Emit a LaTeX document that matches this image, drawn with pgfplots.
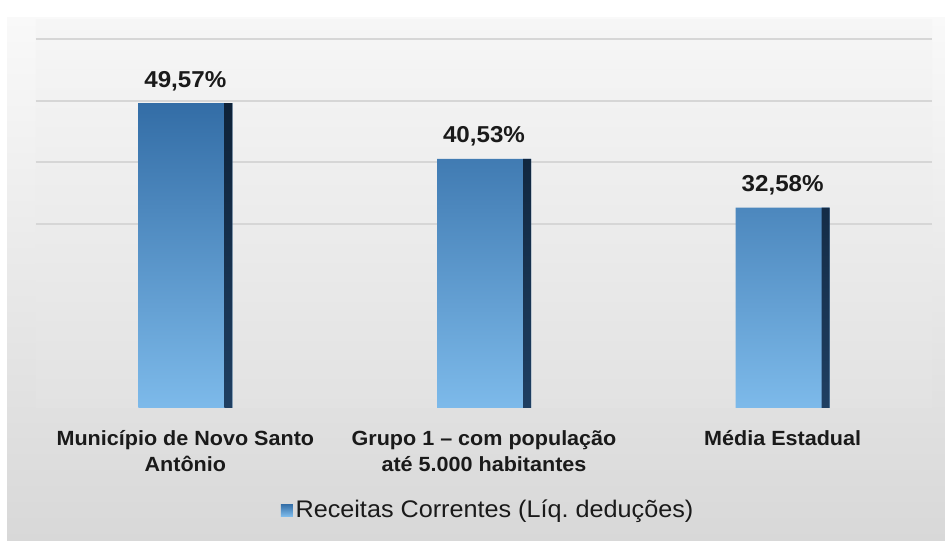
\documentclass[border=0pt]{standalone}
\usepackage{fontspec}
\setmainfont{Liberation Sans}[FakeStretch=1.05]
\usepackage{pgfplots}
\pgfplotsset{compat=1.18}
\frenchspacing
\definecolor{barTop}{HTML}{336DA6}
\definecolor{barBot}{HTML}{7DBAEA}
\definecolor{edgeTop}{HTML}{0E2238}
\definecolor{edgeBot}{HTML}{1F3F62}
\definecolor{bgTop}{HTML}{F9F9F9}
\definecolor{bgBot}{HTML}{D8D8D8}
\definecolor{panTop}{HTML}{F6F6F6}
\definecolor{panBot}{HTML}{E2E2E2}
\definecolor{gridc}{HTML}{D6D6D6}
\definecolor{txt}{HTML}{1A1A1A}
\begin{document}
\begin{tikzpicture}
\begin{scope}[x=0.75pt,y=0.75pt]
\path[use as bounding box] (0,0) rectangle (945,541);
\fill[white] (0,0) rectangle (945,541);
\shade[top color=bgTop, bottom color=bgBot] (7,0) rectangle (945,523);
\end{scope}
\begin{axis}[
  at={(27pt,99.75pt)}, anchor=south west,
  scale only axis, width=672pt, height=291pt,
  xmin=-0.5, xmax=2.5, ymin=0, ymax=63.1,
  axis background/.style={top color=panTop, bottom color=panBot},
  axis line style={draw=none},
  tick style={draw=none},
  ymajorgrids, ytick={30,40,50,60}, yticklabels={},
  grid style={gridc, line width=1.5pt},
  xtick={0,1,2},
  xticklabels={{Município de Novo Santo\\Antônio},{Grupo 1 – com população\\até 5.000 habitantes},{Média Estadual}},
  xticklabel style={align=center, text=txt, font=\bfseries\fontsize{15.4}{19.5}\selectfont, anchor=north, yshift=-9pt},
  ybar, bar width=70.5pt, bar shift=0pt,
  legend style={at={(0.505,-0.263)}, anchor=center, draw=none, fill=none, text=txt, font=\fontsize{18}{20}\selectfont},
  legend image code/.code={\shade[top color=barTop, bottom color=barBot] (0pt,-4.5pt) rectangle (9pt,4.5pt);},
]
\addplot[draw=none, top color=barTop, bottom color=barBot,
  point meta=explicit symbolic,
  nodes near coords,
  nodes near coords style={font=\bfseries\fontsize{17.25}{20}\selectfont, text=txt, anchor=base, yshift=12pt}]
  coordinates {(0,49.57) [49,57\%] (1,40.53) [40,53\%] (2,32.58) [32,58\%]};
\addlegendentry{Receitas Correntes (Líq. deduções)}
\addplot[forget plot, draw=none, top color=edgeTop, bottom color=edgeBot, bar width=6pt, bar shift=32.25pt]
  coordinates {(0,49.57) (1,40.53) (2,32.58)};
\end{axis}
\end{tikzpicture}
\end{document}
